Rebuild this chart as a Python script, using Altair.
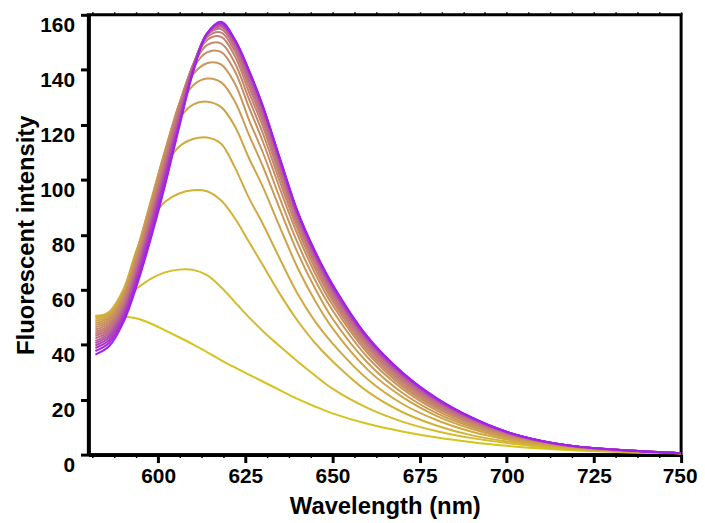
import altair as alt
import pandas as pd

# wavelength grid (nm)
wavelength = [582, 586, 590, 594, 598, 602, 606, 610, 614, 618, 622, 626, 630,
              635, 640, 645, 650, 660, 670, 680, 690, 700, 710, 720, 735, 750]

s01 = [50.5, 50.6, 50.3, 49.5, 47.6, 45.2, 42.7, 40.1, 37.3, 34.4, 31.7, 29.1, 26.6, 23.4, 20.3, 17.5, 15.0, 11.2, 8.4, 6.2, 4.5, 3.2, 2.2, 1.5, 0.8, 0.4]
s02 = [50.4, 51.5, 56.0, 60.5, 64.0, 66.3, 67.3, 67.2, 65.3, 61.0, 55.5, 50.0, 45.0, 39.3, 33.9, 28.8, 24.0, 17.0, 12.0, 8.5, 6.0, 4.2, 2.8, 1.9, 1.0, 0.5]
s03 = [50.0, 52.0, 60.0, 75.0, 85.5, 92.0, 95.0, 96.2, 95.8, 92.5, 86.0, 77.5, 69.0, 58.3, 48.7, 40.6, 34.0, 23.0, 15.5, 10.5, 7.0, 4.8, 3.2, 2.1, 1.1, 0.5]
s04 = [49.3, 51.3, 59.3, 74.8, 91.5, 104.8, 112.0, 114.8, 115.4, 113.2, 104.5, 93.5, 84.0, 71.0, 58.5, 48.5, 40.5, 27.5, 18.5, 12.5, 8.3, 5.5, 3.6, 2.3, 1.2, 0.5]
s05 = [48.6, 50.6, 58.7, 74.4, 92.8, 110.0, 122.0, 127.3, 128.4, 126.5, 119.5, 108.0, 97.5, 82.5, 68.0, 56.0, 46.0, 31.0, 21.0, 14.0, 9.3, 6.0, 4.0, 2.5, 1.3, 0.5]
s06 = [47.9, 50.0, 58.0, 73.6, 92.0, 110.8, 126.0, 134.3, 136.8, 135.5, 128.5, 116.5, 105.0, 89.0, 73.5, 60.5, 49.5, 33.5, 22.5, 15.0, 10.0, 6.4, 4.2, 2.6, 1.3, 0.5]
s07 = [47.1, 49.3, 57.3, 72.8, 91.1, 110.2, 127.4, 138.3, 142.4, 142.0, 135.0, 122.0, 110.0, 93.0, 77.0, 63.5, 52.5, 35.5, 24.0, 16.0, 10.5, 6.8, 4.4, 2.7, 1.4, 0.5]
s08 = [46.3, 48.6, 56.6, 71.9, 90.2, 109.3, 127.5, 140.5, 146.3, 146.5, 139.5, 126.5, 114.0, 96.5, 80.0, 66.0, 54.5, 37.0, 25.0, 16.8, 11.1, 7.1, 4.5, 2.8, 1.4, 0.5]
s09 = [45.5, 47.9, 55.9, 71.1, 89.3, 108.4, 127.0, 141.5, 149.0, 149.6, 142.5, 129.5, 117.0, 99.0, 82.0, 67.8, 56.0, 38.0, 25.8, 17.4, 11.5, 7.3, 4.6, 2.8, 1.4, 0.5]
s10 = [44.7, 47.2, 55.2, 70.3, 88.4, 107.4, 126.2, 141.8, 150.8, 152.0, 145.0, 132.0, 119.5, 101.0, 83.5, 69.2, 57.0, 39.0, 26.5, 17.9, 11.8, 7.5, 4.7, 2.9, 1.45, 0.5]
s11 = [43.9, 46.5, 54.5, 69.4, 87.5, 106.5, 125.4, 141.8, 151.8, 153.6, 146.7, 134.0, 121.3, 102.5, 84.6, 70.2, 58.0, 39.8, 27.1, 18.3, 12.1, 7.7, 4.75, 2.9, 1.45, 0.5]
s12 = [43.1, 45.8, 53.8, 68.6, 86.6, 105.5, 124.5, 141.5, 152.5, 154.8, 148.0, 135.5, 122.8, 103.7, 85.5, 71.0, 58.8, 40.5, 27.7, 18.7, 12.4, 7.8, 4.8, 2.9, 1.5, 0.5]
s13 = [42.3, 45.0, 53.0, 67.8, 85.6, 104.6, 123.6, 141.2, 152.9, 155.6, 149.0, 136.7, 124.0, 104.7, 86.2, 71.7, 59.5, 41.1, 28.2, 19.1, 12.7, 8.0, 4.85, 2.95, 1.5, 0.5]
s14 = [41.4, 44.2, 52.2, 66.9, 84.7, 103.6, 122.7, 140.8, 153.1, 156.2, 149.7, 137.8, 125.0, 105.5, 86.8, 72.3, 60.0, 41.6, 28.7, 19.5, 12.9, 8.1, 4.9, 2.95, 1.5, 0.5]
s15 = [40.6, 43.4, 51.5, 66.1, 83.8, 102.7, 121.8, 140.4, 153.2, 156.6, 150.2, 138.7, 125.8, 106.2, 87.3, 72.8, 60.5, 42.0, 29.1, 19.8, 13.1, 8.15, 4.9, 2.95, 1.5, 0.5]
s16 = [39.7, 42.6, 50.7, 65.3, 82.8, 101.7, 120.9, 140.0, 153.2, 156.9, 150.6, 139.3, 126.3, 106.7, 87.7, 73.2, 61.0, 42.3, 29.4, 20.0, 13.25, 8.2, 4.95, 3.0, 1.5, 0.5]
s17 = [38.8, 41.7, 49.9, 64.4, 81.9, 100.8, 120.1, 139.7, 153.2, 157.1, 150.8, 139.6, 126.6, 107.0, 88.0, 73.5, 61.4, 42.6, 29.6, 20.2, 13.35, 8.25, 4.95, 3.0, 1.5, 0.5]
s18 = [37.7, 40.7, 49.0, 63.3, 80.6, 99.6, 119.6, 139.3, 153.1, 157.3, 150.9, 139.8, 126.8, 107.3, 88.3, 73.8, 61.7, 42.8, 29.8, 20.3, 13.4, 8.28, 5.0, 3.0, 1.5, 0.5]
s19 = [36.4, 39.5, 48.0, 62.0, 79.0, 98.0, 119.0, 139.0, 153.0, 157.5, 151.0, 140.0, 127.0, 107.5, 88.5, 74.0, 62.0, 43.0, 30.0, 20.5, 13.5, 8.3, 5.0, 3.0, 1.5, 0.5]

series = [s01, s02, s03, s04, s05, s06, s07, s08, s09, s10,
          s11, s12, s13, s14, s15, s16, s17, s18, s19]
curve_names = ["c%02d" % (i + 1) for i in range(len(series))]

colors = ["#d4c41c", "#d4bc2a", "#d2b236", "#d0aa40", "#cea448", "#cc9c52",
          "#ca965a", "#c88e62", "#c6886a", "#c48272", "#c27a7a", "#c07282",
          "#bc6a8c", "#b85e98", "#b452a6", "#b046b4", "#ac3ac2", "#a82ed2",
          "#a020f0"]

x_ticks = [581.25, 587.5, 593.75, 600, 606.25, 612.5, 618.75, 625, 631.25, 637.5,
           643.75, 650, 656.25, 662.5, 668.75, 675, 681.25, 687.5, 693.75, 700,
           706.25, 712.5, 718.75, 725, 731.25, 737.5, 743.75, 750]
y_ticks = [0, 20, 40, 60, 80, 100, 120, 140, 160]

rows = []
for name, vals in zip(curve_names, series):
    for w, v in zip(wavelength, vals):
        rows.append({"curve": name, "wl": w, "val": v})
df = pd.DataFrame(rows)

xscale = alt.Scale(domain=[580, 750], nice=False, zero=False)
yscale = alt.Scale(domain=[0, 160], nice=False, zero=True)

lines = alt.Chart(df).mark_line(strokeWidth=2, interpolate="catmull-rom", clip=True).encode(
    x=alt.X("wl:Q", scale=xscale, axis=alt.Axis(
        values=x_ticks, title="Wavelength (nm)",
        labelExpr="datum.value % 25 === 0 ? datum.label : ''",
        tickSize={"condition": {"test": "datum.value % 25 === 0", "value": 8}, "value": 3},
        tickWidth={"condition": {"test": "datum.value % 25 === 0", "value": 3}, "value": 1.5},
        labelBaseline="top", labelPadding=3, titlePadding=8, domainWidth=4,
        labelFlush=True, labelFlushOffset=16, labelOverlap=False)),
    y=alt.Y("val:Q", scale=yscale, axis=alt.Axis(
        values=y_ticks, title="Fluorescent intensity", tickSize=8, tickWidth=3,
        labelBaseline="top", labelOffset=0, labelPadding=6, titlePadding=1, domainWidth=4,
        labelOverlap=False)),
    color=alt.Color("curve:N", scale=alt.Scale(domain=curve_names, range=colors), legend=None),
    detail="curve:N",
)

top = alt.Chart(pd.DataFrame({"wl": x_ticks})).mark_point(opacity=0).encode(
    x=alt.X("wl:Q", scale=xscale, axis=alt.Axis(
        orient="top", values=x_ticks, labels=False, domain=False, title=None,
        tickSize=3, tickWidth=1.5)),
)

chart = alt.layer(lines, top).resolve_scale(x="independent").resolve_axis(x="independent").properties(
    width=694, height=512,
    autosize=alt.AutoSizeParams(type="fit", contains="padding"),
    padding={"left": 6, "top": 1, "right": 0, "bottom": 0},
).configure_axis(
    labelFont="Liberation Sans", labelFontWeight="bold", labelFontSize=21, labelColor="black",
    titleFont="Liberation Sans", titleFontWeight="bold", titleFontSize=24, titleColor="black",
    tickColor="black", domainColor="black", grid=False,
).configure_view(stroke="black", strokeWidth=3)

chart.save("out.html", embed_options={"renderer": "svg", "actions": False})
